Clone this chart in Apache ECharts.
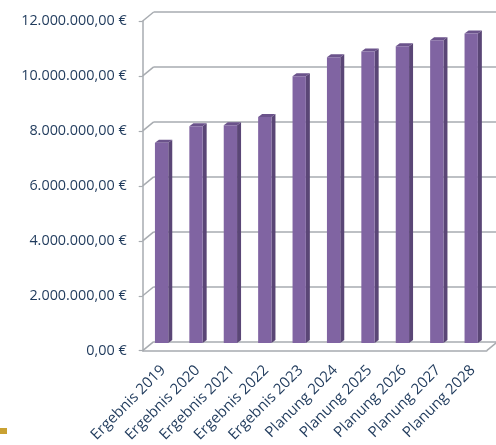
<!DOCTYPE html>
<html><head><meta charset="utf-8">
<script src="https://cdn.jsdelivr.net/npm/echarts@6/dist/echarts.min.js"></script>
<style>html,body{margin:0;padding:0;background:#fff}#c{width:496px;height:445px}</style>
</head><body><div id="c"></div>
<script>
const categories = ['Ergebnis 2019','Ergebnis 2020','Ergebnis 2021','Ergebnis 2022','Ergebnis 2023','Planung 2024','Planung 2025','Planung 2026','Planung 2027','Planung 2028'];
const values = [7400000, 8010000, 8050000, 8350000, 9860000, 10560000, 10770000, 10970000, 11190000, 11440000];
const yTicks = [0, 2000000, 4000000, 6000000, 8000000, 10000000, 12000000];

const TEXT = '#1F3A5C', GRID = '#A7ABB0', FONT = 'Open Sans';
function fmt(v){
  const s = Math.round(v).toString().replace(/\B(?=(\d{3})+(?!\d))/g,'.');
  return s + ',00 €';
}
const chart = echarts.init(document.getElementById('c'));
const yBase = {type:'value', min:0, max:12000000, interval:2000000};
chart.setOption({
  animation:false,
  graphic:[{type:'rect', shape:{x:0,y:428,width:7,height:6}, style:{fill:'#C9A132'}}],
  grid:[
    {left:142.7, right:9.3, top:21, bottom:94.3},
    {left:146, right:6, top:18.3, bottom:97},
    {left:153.7, right:-2, top:12, bottom:103.3}
  ],
  xAxis:[
    {gridIndex:0, type:'category', data:categories, axisLine:{lineStyle:{color:GRID,width:1.5}},
     axisTick:{length:4, lineStyle:{color:GRID,width:1.2}}, axisLabel:{show:false}},
    {gridIndex:1, type:'category', data:categories, axisLine:{show:false}, axisTick:{show:false},
     axisLabel:{rotate:45, margin:25, color:TEXT, fontFamily:FONT, fontSize:15, interval:0}},
    {gridIndex:2, type:'category', data:categories, show:false}
  ],
  yAxis:[
    Object.assign({gridIndex:0, axisLine:{show:true, lineStyle:{color:GRID,width:1.5}},
     axisTick:{show:true, length:4, lineStyle:{color:GRID,width:1.2}}, splitLine:{show:false},
     axisLabel:{margin:16, color:TEXT, fontFamily:FONT, fontSize:14.4, formatter:fmt}}, yBase),
    Object.assign({gridIndex:1, show:false}, yBase),
    Object.assign({gridIndex:2, axisLine:{show:false}, axisTick:{show:false}, axisLabel:{show:false},
     splitLine:{show:true, lineStyle:{color:GRID,width:1.5}}}, yBase)
  ],
  series:[
    {type:'custom', xAxisIndex:0, yAxisIndex:0, data:yTicks.map(v=>[0,v]), silent:true,
     renderItem:function(params, api){
       const cs = params.coordSys;
       const p = api.coord([0, api.value(1)]);
       const children = [{type:'line', shape:{x1:cs.x, y1:p[1], x2:cs.x+11, y2:p[1]-9},
         style:{stroke:GRID, lineWidth:1.5}}];
       if (params.dataIndex === 0) {
         children.push({type:'line', shape:{x1:cs.x+cs.width, y1:p[1], x2:cs.x+cs.width+11, y2:p[1]-9},
           style:{stroke:GRID, lineWidth:1.5}});
       }
       return {type:'group', children:children};
     }},
    {type:'custom', xAxisIndex:1, yAxisIndex:1, data:values.map((v,i)=>[i,v]), silent:true,
     renderItem:function(params, api){
       const top = api.coord([api.value(0), api.value(1)]);
       const base = api.coord([api.value(0), 0]);
       const band = api.size([1,0])[0];
       const fw = band*0.387, fx = top[0]-band*0.24, dx = 4, dy = 3;
       const ty = top[1], by = base[1];
       return {type:'group', children:[
         {type:'polygon', shape:{points:[[fx+fw,ty],[fx+fw+dx,ty-dy],[fx+fw+dx,by-dy],[fx+fw,by]]},
          style:{fill:'#5A4676'}},
         {type:'polygon', shape:{points:[[fx,ty],[fx+dx,ty-dy],[fx+fw+dx,ty-dy],[fx+fw,ty]]},
          style:{fill:'#6B538B'}},
         {type:'rect', shape:{x:fx, y:ty, width:fw, height:by-ty}, style:{fill:'#8064A2'}}
       ]};
     }}
  ]
});
</script></body></html>
